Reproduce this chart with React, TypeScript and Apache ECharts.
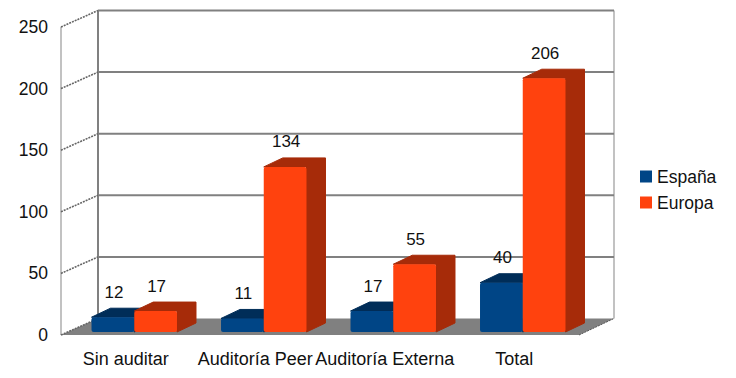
import React, { useEffect, useRef } from "react";
import * as echarts from "echarts";

const categories = ["Sin auditar", "Auditoría Peer", "Auditoría Externa", "Total"];
const espana = [12, 11, 17, 40];
const europa = [17, 134, 55, 206];
const yTicks = [0, 50, 100, 150, 200, 250];

const FONT = '"Liberation Sans", Arial, sans-serif';
const DEPTH_X = 36;
const DEPTH_Y = 16.5;

function renderWall(params: any, api: any) {
  const cs = params.coordSys;
  const v = api.value(1);
  const y = api.coord([0, v])[1];
  const x0 = cs.x;
  const x1 = cs.x + cs.width;
  const children: any[] = [];
  const gray = "#808080";
  if (v === 0) {
    children.push({
      type: "polygon",
      shape: { points: [[x0, y], [x0 + DEPTH_X + 1, y - DEPTH_Y], [x1 + DEPTH_X - 1, y - DEPTH_Y], [x1, y]] },
      style: { fill: gray, stroke: null },
    });
    children.push({
      type: "line",
      shape: { x1: x1, y1: y, x2: x1 + DEPTH_X - 1, y2: y - DEPTH_Y },
      style: { stroke: "#555", lineWidth: 1, lineDash: [2, 1] },
    });
    children.push({
      type: "line",
      shape: { x1: x0, y1: cs.y, x2: x0, y2: y },
      style: { stroke: "#999", lineWidth: 1.2 },
    });
    children.push({
      type: "line",
      shape: { x1: x0 + DEPTH_X + 1, y1: cs.y - DEPTH_Y, x2: x0 + DEPTH_X + 1, y2: y - DEPTH_Y },
      style: { stroke: gray, lineWidth: 2 },
    });
    children.push({
      type: "line",
      shape: { x1: x1 + DEPTH_X - 1, y1: cs.y - DEPTH_Y, x2: x1 + DEPTH_X - 1, y2: y - DEPTH_Y },
      style: { stroke: "#999", lineWidth: 1.2 },
    });
  } else {
    children.push({
      type: "line",
      shape: { x1: x0 + DEPTH_X + 1, y1: y - DEPTH_Y, x2: x1 + DEPTH_X - 1, y2: y - DEPTH_Y },
      style: { stroke: gray, lineWidth: 2 },
    });
  }
  children.push({
    type: "line",
    shape: { x1: x0, y1: y, x2: x0 + DEPTH_X + 1, y2: y - DEPTH_Y },
    style: { stroke: "#666", lineWidth: 1.6, lineDash: [2, 1] },
  });
  return { type: "group", children };
}

function makeBar(side: number, front: string, dark: string) {
  return (_params: any, api: any) => {
    const cat = api.value(0);
    const val = api.value(1);
    const [cx, top] = api.coord([cat, val]);
    const base = api.coord([cat, 0])[1];
    const band = api.size([1, 0])[0];
    const w = band * 0.33;
    const shiftX = 8.5;
    const shiftY = 3;
    const l = cx + shiftX + (side < 0 ? -w : 0);
    const r = l + w;
    const t = top - shiftY;
    const b = base - shiftY;
    const dx = 19;
    const dy = 9;
    return {
      type: "group",
      children: [
        {
          type: "polygon",
          shape: { points: [[l, t], [l + dx, t - dy], [r + dx, t - dy], [r + dx, b - dy], [r, b], [r, t]] },
          style: { fill: dark, stroke: dark, lineWidth: 1, lineJoin: "round" },
        },
        {
          type: "rect",
          shape: { x: l, y: t, width: w, height: b - t, r: 2 },
          style: { fill: front },
        },
        {
          type: "text",
          x: l + w / 2 + 1,
          y: t - 25,
          style: {
            text: String(val),
            fill: "#111",
            font: `17px ${FONT}`,
            align: "center",
            verticalAlign: "middle",
          },
        },
      ],
    };
  };
}

export default function App() {
  const ref = useRef<HTMLDivElement>(null);
  useEffect(() => {
    const chart = echarts.init(ref.current!, undefined, { renderer: "svg" });
    chart.setOption({
      animation: false,
      backgroundColor: "#ffffff",
      grid: { left: 61, top: 27, width: 518, height: 308, containLabel: false },
      legend: {
        data: ["España", "Europa"],
        left: 635,
        top: 162,
        orient: "vertical",
        itemWidth: 12,
        itemHeight: 12,
        itemGap: 7,
        icon: "rect",
        textStyle: { fontFamily: FONT, fontSize: 17.5, lineHeight: 19, color: "#111", padding: [0, 0, 0, 0] },
      },
      xAxis: {
        type: "category",
        data: categories,
        axisLine: { show: false },
        axisTick: { show: false },
        axisLabel: {
          interval: 0,
          margin: 15,
          hideOverlap: false,
          fontFamily: FONT,
          fontSize: 18,
          color: "#111",
        },
      },
      yAxis: {
        type: "value",
        min: 0,
        max: 250,
        interval: 50,
        axisLine: { show: false },
        axisTick: { show: false },
        splitLine: { show: false },
        axisLabel: { margin: 13, fontFamily: FONT, fontSize: 17.5, color: "#111" },
      },
      series: [
        {
          type: "custom",
          name: "walls",
          coordinateSystem: "cartesian2d",
          clip: false,
          renderItem: renderWall,
          encode: { x: 0, y: 1 },
          data: yTicks.map((t) => [0, t]),
          silent: true,
        },
        {
          type: "custom",
          name: "España",
          clip: false,
          itemStyle: { color: "#004586" },
          renderItem: makeBar(-1, "#004586", "#002d58"),
          encode: { x: 0, y: 1 },
          data: espana.map((v, i) => [i, v]),
        },
        {
          type: "custom",
          name: "Europa",
          clip: false,
          itemStyle: { color: "#ff420e" },
          renderItem: makeBar(1, "#ff420e", "#a62b09"),
          encode: { x: 0, y: 1 },
          data: europa.map((v, i) => [i, v]),
        },
      ],
    });
    return () => chart.dispose();
  }, []);
  return (
    <div
      ref={ref}
      style={{ position: "absolute", left: 0, top: 0, width: 736, height: 378 }}
    />
  );
}
